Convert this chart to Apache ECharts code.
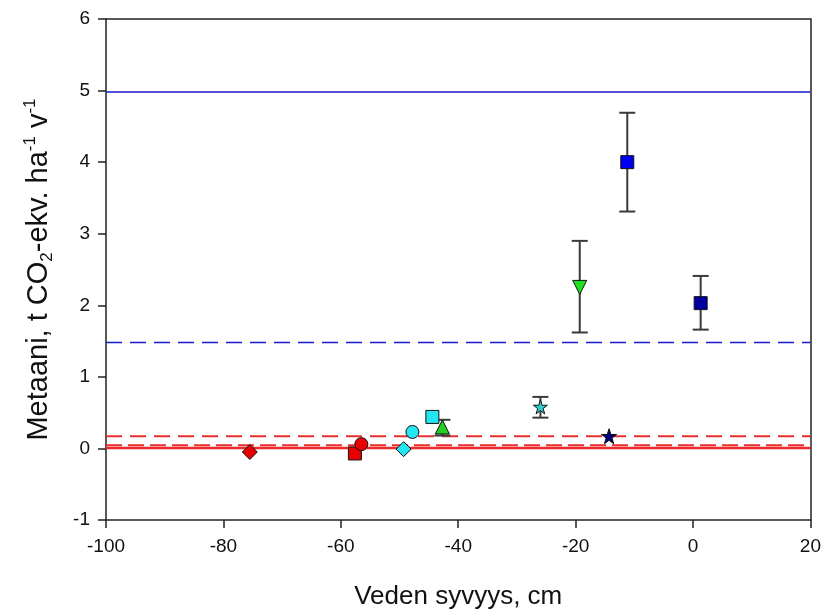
<!DOCTYPE html>
<html>
<head>
<meta charset="utf-8">
<script src="https://cdn.jsdelivr.net/npm/echarts@6/dist/echarts.min.js"></script>
<style>html,body{margin:0;padding:0;background:#fff}#c{width:824px;height:615px}</style>
</head>
<body>
<div id="c"></div>
<script>
// Tick settings
var xTicks = [-100, -80, -60, -40, -20, 0, 20];
var yTicks = [-1, 0, 1, 2, 3, 4, 5, 6];

// Points: [x, y] and error bars [x, low, high]
var redDiamond = [[-75.5, -0.05]];
var redSquare = [[-57.6, -0.07]];
var redCircle = [[-56.5, 0.06]];
var cyanDiamond = [[-49.3, -0.01]];
var cyanCircle = [[-47.8, 0.23]];
var cyanSquare = [[-44.4, 0.44]];
var greenTriangle = [[-42.7, 0.30]];
var greenTriangleErr = [[-42.7, 0.18, 0.40]];
var cyanStar = [[-26.0, 0.58]];
var cyanStarErr = [[-26.0, 0.43, 0.72]];
var navyStar = [[-14.3, 0.17]];
var greenDown = [[-19.3, 2.25]];
var greenDownErr = [[-19.3, 1.62, 2.90]];
var blueSquare = [[-11.2, 4.0]];
var blueSquareErr = [[-11.2, 3.31, 4.69]];
var navySquare = [[1.3, 2.03]];
var navySquareErr = [[1.3, 1.66, 2.41]];

// Reference lines
var refBlueSolid = 4.98;
var refBlueDashed = 1.48;
var refRedDashedHigh = 0.17;
var refRedDashedLow = 0.045;
var refRedSolid = 0.005;

var xRange = [-100, 20];

function hline(y) { return [[xRange[0], y], [xRange[1], y]]; }

var starPath = 'path://M50,2 L61.8,36.2 L97.6,36.2 L68.5,57.4 L79.4,91.6 L50,70.6 L20.6,91.6 L31.5,57.4 L2.4,36.2 L38.2,36.2 Z';

var chart = echarts.init(document.getElementById('c'), null, {renderer: 'canvas'});

function lineSeries(y, color, width, type) {
  return {
    type: 'line', data: hline(y), symbol: 'none', silent: true, z: 1,
    lineStyle: {color: color, width: width, type: type}
  };
}
function errSeries(data) {
  return {
    type: 'custom', data: data, z: 2, silent: true,
    renderItem: function (params, api) {
      var x = api.value(0);
      var lo = api.coord([x, api.value(1)]);
      var hi = api.coord([x, api.value(2)]);
      var cap = 8;
      var st = {stroke: '#3a3a3a', lineWidth: 2};
      return {type: 'group', children: [
        {type: 'line', shape: {x1: lo[0], y1: lo[1], x2: hi[0], y2: hi[1]}, style: st},
        {type: 'line', shape: {x1: lo[0] - cap, y1: lo[1], x2: lo[0] + cap, y2: lo[1]}, style: st},
        {type: 'line', shape: {x1: hi[0] - cap, y1: hi[1], x2: hi[0] + cap, y2: hi[1]}, style: st}
      ]};
    }
  };
}
function pt(data, symbol, color, size, rotate) {
  return {
    type: 'scatter', data: data, symbol: symbol, symbolSize: size, z: 5,
    symbolRotate: rotate || 0,
    itemStyle: {color: color, borderColor: '#111', borderWidth: 1, opacity: 1}
  };
}

var FF = 'Liberation Sans, Arial, sans-serif';
var labelFont = {fontFamily: FF, fontSize: 19, color: '#111'};

chart.setOption({
  animation: false,
  backgroundColor: '#fff',
  grid: {left: 106, right: 13, top: 19, bottom: 90, containLabel: false},
  xAxis: [{
    type: 'value', min: xRange[0], max: xRange[1], interval: 20,
    axisLine: {show: true, onZero: false, lineStyle: {color: '#222', width: 1.5}},
    axisTick: {show: true, inside: false, length: 8, lineStyle: {color: '#222', width: 1.5}},
    axisLabel: Object.assign({margin: 17}, labelFont),
    splitLine: {show: false},
    name: 'Veden syvyys, cm', nameLocation: 'middle', nameGap: 64,
    nameTextStyle: {fontFamily: FF, fontSize: 26, color: '#111'}
  }, {
    type: 'value', position: 'top', min: xRange[0], max: xRange[1],
    axisLine: {show: true, onZero: false, lineStyle: {color: '#222', width: 1.5}},
    axisTick: {show: false}, axisLabel: {show: false}, splitLine: {show: false}
  }],
  yAxis: [{
    type: 'value', min: -1, max: 6, interval: 1,
    axisLine: {show: true, onZero: false, lineStyle: {color: '#222', width: 1.5}},
    axisTick: {show: true, inside: false, length: 8, lineStyle: {color: '#222', width: 1.5}},
    axisLabel: Object.assign({margin: 16}, labelFont),
    splitLine: {show: false},
    name: '{a|Metaani, t CO}{s|2}{a|-ekv. ha}{p|-1}{a| v}{p|-1}',
    nameLocation: 'middle', nameGap: 50, nameRotate: 90,
    nameTextStyle: {
      fontFamily: FF, fontSize: 29, color: '#111',
      rich: {
        a: {fontFamily: FF, fontSize: 29, color: '#111', lineHeight: 34, verticalAlign: 'middle'},
        s: {fontFamily: FF, fontSize: 17, color: '#111', lineHeight: 34, verticalAlign: 'bottom', padding: [12, 0, 0, 0]},
        p: {fontFamily: FF, fontSize: 17, color: '#111', lineHeight: 34, verticalAlign: 'top', padding: [0, 0, 12, 0]}
      }
    }
  }, {
    type: 'value', position: 'right', min: -1, max: 6, interval: 1,
    axisLine: {show: true, onZero: false, lineStyle: {color: '#222', width: 1.5}},
    axisTick: {show: false}, axisLabel: {show: false}, splitLine: {show: false}
  }],
  series: [
    lineSeries(refBlueSolid, '#1a1acc', 1.5, 'solid'),
    lineSeries(refBlueDashed, '#1a1acc', 1.5, [16, 8]),
    lineSeries(refRedDashedHigh, '#e83030', 2, [16, 8]),
    lineSeries(refRedSolid, '#ee2a2a', 2.5, 'solid'),
    lineSeries(refRedDashedLow, '#ee2a2a', 2, [16, 6]),
    errSeries(greenTriangleErr),
    errSeries(cyanStarErr),
    errSeries(greenDownErr),
    errSeries(blueSquareErr),
    errSeries(navySquareErr),
    pt(redDiamond, 'diamond', '#e60000', 15),
    pt(redSquare, 'rect', '#e60000', 13),
    pt(redCircle, 'circle', '#e60000', 13),
    pt(cyanDiamond, 'diamond', '#22e6f0', 15),
    pt(cyanCircle, 'circle', '#22e6f0', 13),
    pt(cyanSquare, 'rect', '#22e6f0', 13),
    pt(greenTriangle, 'triangle', '#22d022', 14),
    pt(cyanStar, starPath, '#33cccc', 14),
    pt(navyStar, starPath, '#00007a', 15),
    pt(greenDown, 'triangle', '#22dd22', 14, 180),
    pt(blueSquare, 'rect', '#0000f0', 13),
    pt(navySquare, 'rect', '#0000a0', 13)
  ]
});
</script>
</body>
</html>
